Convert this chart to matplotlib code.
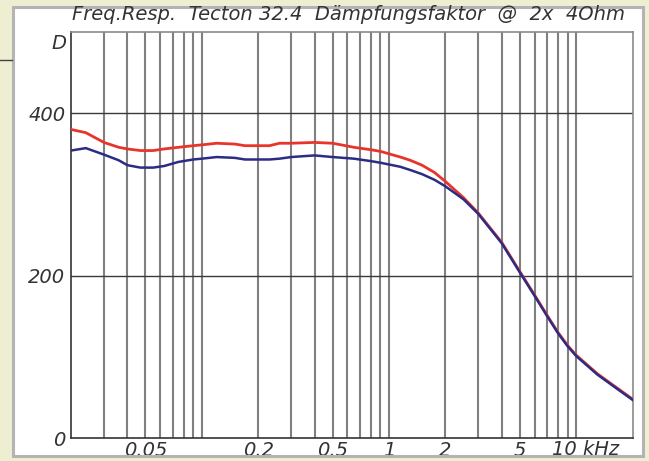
import matplotlib
matplotlib.use('Agg')
from matplotlib import pyplot as plt
from matplotlib.patches import Rectangle
from matplotlib.lines import Line2D

# frequency in kHz, damping factor
freq = [0.02, 0.024, 0.03, 0.036, 0.04, 0.047, 0.055, 0.063, 0.075, 0.09, 0.1, 0.12,
        0.15, 0.17, 0.23, 0.26, 0.3, 0.4, 0.5, 0.65, 0.8, 0.9, 1.15, 1.3, 1.5, 1.75, 2.0, 2.5,
        3.0, 4.0, 5.0, 6.0, 7.0, 8.0, 9.0, 10, 13, 16, 20]
red_vals = [380, 376, 364, 358, 356, 354, 354, 356, 358, 360, 361, 363,
            362, 360, 360, 363, 363, 364, 363, 358, 355, 353, 346, 342, 336, 327, 316, 296,
            277, 241, 205, 176, 151, 130, 114, 102, 79, 64, 48]
blue_vals = [354, 357, 349, 342, 336, 333, 333, 335, 340, 343, 344, 346,
             345, 343, 343, 344, 346, 348, 346, 344, 341, 339, 334, 330, 325, 318, 310, 294,
             276, 240, 204, 175, 150, 129, 113, 101, 78, 63, 47]

grid_freqs = [0.03, 0.04, 0.05, 0.06, 0.07, 0.08, 0.09, 0.1,
              0.2, 0.3, 0.4, 0.5, 0.6, 0.7, 0.8, 0.9, 1,
              2, 3, 4, 5, 6, 7, 8, 9, 10]
x_ticks = [0.05, 0.2, 0.5, 1, 2, 5]
x_labels = ['0.05', '0.2', '0.5', '1', '2', '5']
y_ticks = [0, 200, 400]
y_labels = ['0', '200', '400']
title = 'Freq.Resp.  Tecton 32.4  Dämpfungsfaktor  @  2x  4Ohm'

W, H = 649, 461
beige = '#eeeed2'
txt = '#333333'

fig = plt.figure(figsize=(W / 100, H / 100), dpi=100, facecolor=beige)

# white panel with grey frame
fig.patches.append(Rectangle((13 / W, 1 - 456 / H), 630 / W, 449 / H, transform=fig.transFigure,
                             facecolor='white', edgecolor='#b4b4b4', linewidth=2.2, zorder=-1))
fig.lines.append(Line2D([0, 12 / W], [1 - 60 / H, 1 - 60 / H], transform=fig.transFigure,
                        color='#444444', linewidth=1))

ax = fig.add_axes([71 / W, 1 - 438 / H, (632.5 - 71) / W, (438 - 32) / H])
ax.set_xscale('log')
ax.set_xlim(0.02, 20)
ax.set_ylim(0, 500)

for f in grid_freqs:
    ax.axvline(f, color='#808080', linewidth=1.5, zorder=1)
for v in [200, 400]:
    ax.axhline(v, color='#3a3a3a', linewidth=1.0, zorder=1)

ax.plot(freq, red_vals, color='#e8352b', linewidth=2.0, zorder=3)
ax.plot(freq, blue_vals, color='#2b2d85', linewidth=1.8, zorder=4)

for s in ['top', 'right']:
    ax.spines[s].set_color('#8a8a8a')
    ax.spines[s].set_linewidth(1.2)
for s in ['left', 'bottom']:
    ax.spines[s].set_color('#333333')
    ax.spines[s].set_linewidth(1.2)

ax.set_xticks(x_ticks)
ax.set_xticklabels(x_labels)
ax.xaxis.set_minor_locator(matplotlib.ticker.NullLocator())
ax.set_yticks(y_ticks)
ax.set_yticklabels(y_labels)
ax.tick_params(length=0, labelsize=14, colors=txt)
ax.tick_params(axis='x', pad=2)
ax.tick_params(axis='y', pad=4)
for lab in ax.get_xticklabels() + ax.get_yticklabels():
    lab.set_fontstyle('italic')

ax.text(7.4, -0.006, '10 kHz', transform=ax.get_xaxis_transform(), ha='left', va='top',
        fontsize=14, fontstyle='italic', color=txt)
ax.text(-0.008, 486, 'D', transform=ax.get_yaxis_transform(), ha='right', va='center',
        fontsize=14, fontstyle='italic', color=txt)

fig.text((70 + 628) / 2 / W, 1 - 14 / H, title, ha='center', va='center',
         fontsize=14, fontstyle='italic', color=txt)

# beige strip and frame drawn over the clipped tick labels
fig.patches.append(Rectangle((0, 0), 1, 5 / H, transform=fig.transFigure,
                             facecolor=beige, edgecolor='none', zorder=50))
fig.lines.append(Line2D([13 / W, 643 / W], [1 - 456 / H, 1 - 456 / H], transform=fig.transFigure,
                        color='#b4b4b4', linewidth=2.2, zorder=51))

fig.savefig('out.png', dpi=100, facecolor=beige)
